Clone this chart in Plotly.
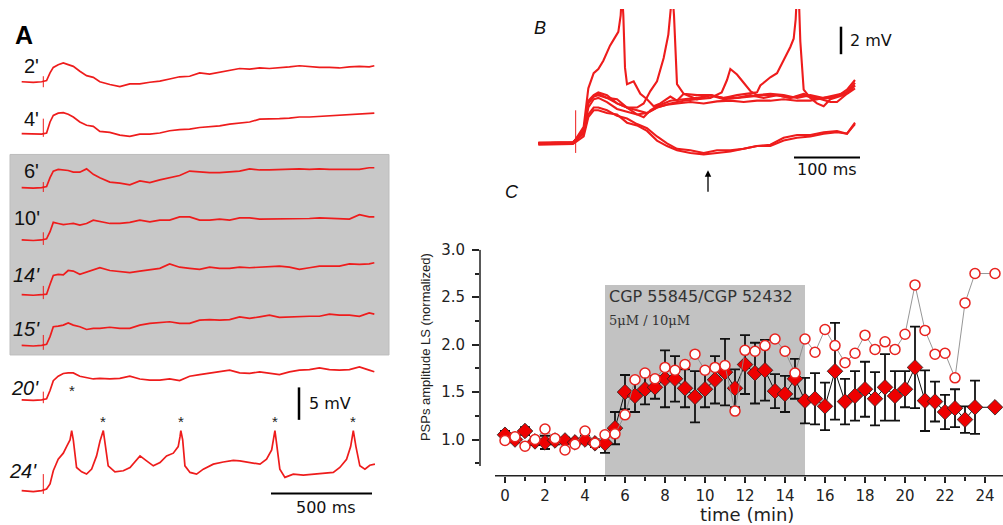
import plotly.graph_objects as go

W, H = 1003, 525
RED = "#ee1c1c"

# ---------------- Panel A : recordings at several times (mV rel. baseline) -------------
A_TIME = [-106, -49, -8, 16, 33, 49, 73, 98, 122, 147, 179, 212, 245, 277, 326, 375, 424, 473,
          522, 571, 619, 668, 717, 766, 815, 864, 913, 962, 1011, 1060, 1108, 1157, 1206, 1255,
          1304, 1353, 1402, 1451, 1500, 1549, 1597, 1622]
A_LABELS = ["2'", "4'", "6'", "10'", "14'", "15'", "20'", "24'"]
A_2 = [0, -0.1, 0, 0.2, 1.6, 2.6, 3.1, 3.4, 3.1, 2.8, 1.9, 1.1, 0.8, 0, -0.5, -0.9, -0.4, -0.4, -0.1, 0.1,
       0.5, 0.9, 1.0, 1.6, 1.4, 1.7, 2.0, 2.4, 2.3, 2.5, 2.4, 2.5, 2.7, 2.9, 2.7, 2.6, 2.6, 2.5, 2.7, 2.8, 2.7, 2.9]
A_4 = [0, -0.1, -0.1, 0.1, 2.1, 3.3, 3.7, 3.8, 3.5, 3.0, 2.1, 1.5, 1.3, 0.4, 0.2, -0.3, -0.5, -0.1, -0.1, 0.1,
       0.5, 0.7, 0.8, 1.1, 1.2, 1.4, 1.7, 1.9, 2.1, 2.6, 2.6, 2.7, 2.8, 3.0, 3.0, 3.1, 3.3, 3.3, 3.4, 3.5, 3.7, 3.7]
A_6 = [0, -0.1, 0, 0.2, 1.8, 3.0, 3.3, 3.2, 3.1, 2.8, 2.8, 3.4, 2.4, 1.8, 1.0, 0.8, 0.5, 1.2, 0.9, 1.4,
       1.8, 2.2, 3.0, 2.8, 2.7, 2.7, 2.8, 3.0, 3.4, 3.2, 3.2, 3.3, 3.3, 3.4, 3.3, 3.4, 3.3, 3.3, 3.3, 3.3, 3.6, 3.6]
A_10 = [0, -0.1, 0, 0.2, 1.5, 3.2, 3.0, 2.8, 2.9, 3.0, 2.7, 3.0, 3.6, 3.4, 3.0, 3.0, 3.2, 3.6, 3.3, 3.6,
        3.6, 4.2, 4.2, 3.6, 3.6, 3.8, 3.6, 4.0, 4.0, 3.8, 3.8, 3.9, 3.8, 3.9, 3.9, 4.0, 3.9, 3.9, 3.8, 4.6, 4.2, 4.2]
A_14 = [0, -0.1, 0, 0.1, 1.9, 3.5, 3.7, 3.6, 4.4, 4.3, 3.7, 4.1, 4.6, 4.9, 4.4, 4.2, 4.0, 4.3, 4.6, 4.8,
        5.6, 5.0, 4.8, 4.6, 5.0, 4.8, 4.8, 5.0, 4.9, 5.0, 5.2, 5.2, 5.0, 4.6, 4.9, 5.2, 5.2, 5.2, 5.6, 5.5, 5.6, 5.8]
A_15 = [0, -0.1, 0, 0.2, 1.6, 3.4, 3.5, 3.7, 4.1, 3.7, 3.4, 2.9, 3.1, 3.1, 3.3, 3.1, 3.1, 3.7, 4.0, 4.2,
        4.3, 4.0, 4.0, 4.6, 4.7, 4.6, 4.7, 5.2, 4.9, 5.2, 5.5, 5.1, 5.2, 5.3, 5.3, 5.3, 5.7, 5.5, 5.5, 5.3, 5.9, 5.7]
A_20 = [0, -0.1, 0, 0.2, 1.7, 3.5, 4.3, 4.8, 4.9, 4.9, 4.3, 4.0, 3.8, 3.9, 3.8, 3.9, 4.3, 3.8, 3.6, 3.6,
        3.8, 3.5, 4.3, 4.6, 4.9, 5.1, 5.4, 4.9, 4.8, 5.1, 4.9, 4.6, 5.1, 5.4, 5.5, 5.8, 5.5, 5.4, 5.5, 6.0, 5.4, 5.1]
A_24_TIME = [-106, -49, -8, 16, 33, 49, 73, 98, 114, 131, 139, 147, 163, 188, 212, 237, 261, 278, 294, 302,
             318, 351, 392, 425, 449, 474, 506, 539, 572, 604, 637, 661, 670, 674, 683, 694, 719, 751, 784,
             833, 882, 931, 963, 1012, 1062, 1094, 1119, 1130, 1135, 1143, 1159, 1184, 1225, 1274, 1323,
             1372, 1421, 1453, 1486, 1506, 1519, 1532, 1551, 1576, 1600, 1625]
A_24 = [0, -0.2, 0, 0.3, 1.2, 3.6, 5.7, 6.8, 8.0, 9.2, 10.9, 9.2, 4.2, 3.4, 3.0, 3.9, 6.3, 9.0, 10.9, 9.0,
        4.5, 3.4, 3.6, 4.2, 5.2, 6.3, 5.4, 4.5, 5.1, 6.3, 6.8, 8.0, 9.8, 10.9, 9.2, 4.5, 3.3, 3.0, 3.9,
        4.8, 5.2, 5.5, 5.4, 5.1, 4.8, 5.7, 7.4, 9.8, 10.9, 8.6, 3.9, 2.4, 3.0, 2.8, 3.0,
        3.2, 3.3, 4.2, 5.7, 8.0, 10.9, 8.0, 4.5, 3.9, 4.6, 4.8]
A_ART_UP = [1.0, 2.7, 1.0, 1.4, 1.6, 1.9, 1.5, 3.0]
A_ART_DN = [-1.0, -0.6, -0.8, -0.9, -0.8, -0.8, -0.6, -0.6]
A_STAR_24 = [294, 674, 1135, 1519]
A_STAR_24_PEAK = 10.9

# ---------------- Panel B : superimposed sweeps (ms, mV rel. baseline) -------------
B_TIME = [-56, -28, -4, 12, 19, 27, 34, 47, 62, 77, 92, 107, 122, 137, 152, 172, 192, 212, 232, 252,
          272, 292, 312, 332, 352, 372, 392, 407, 419]
B_1 = [0, -0.05, 0.05, 0.7, 2.1, 2.6, 2.6, 2.4, 2.0, 1.8, 1.4, 1.1, 0.5, 0, -0.4, -0.5, -0.7, -0.5, -0.5, -0.4,
       -0.2, -0.1, 0.4, 0.6, 0.6, 0.8, 0.9, 0.7, 1.5]
B_2 = [-0.1, -0.1, -0.05, 0.5, 1.9, 2.4, 2.4, 2.2, 2.1, 1.5, 1.3, 0.9, 0.2, -0.2, -0.5, -0.7, -0.8, -0.7, -0.6, -0.4,
       -0.2, -0.2, 0.2, 0.4, 0.5, 0.7, 0.8, 0.7, 1.4]
B_3 = [0, 0, 0.05, 0.95, 2.9, 3.4, 3.5, 3.3, 2.9, 2.6, 2.4, 2.2, 2.6, 2.8, 2.9, 3.0, 2.9, 3.05, 3.1, 3.0,
       3.1, 3.1, 3.2, 3.1, 3.1, 3.3, 3.5, 3.7, 4.2]
B_4_TIME = [-56, -28, -4, 12, 19, 27, 34, 47, 62, 77, 92, 107, 122, 142, 162, 182, 202, 219, 227, 232,
            242, 252, 262, 272, 292, 312, 332, 352, 372, 392, 407, 419]
B_4 = [0.05, 0.07, 0.1, 0.8, 2.6, 3.2, 3.3, 3.0, 2.5, 2.3, 2.1, 2.2, 2.6, 2.9, 3.1, 3.2, 3.3, 3.7, 4.6, 5.4,
       5.0, 4.4, 3.8, 3.5, 3.6, 3.5, 3.3, 3.5, 3.3, 3.4, 3.9, 4.6]
B_5_TIME = [-56, -28, -4, 12, 19, 27, 34, 41.5, 51.5, 59, 64, 67.5, 69.5, 71.5, 74, 77, 87, 97, 107, 117,
            127, 142, 152, 162, 182, 202, 222, 242, 262, 282, 302, 322, 342, 362, 382, 392, 407, 419]
B_5 = [-0.05, 0, 0, 1.2, 4.0, 5.1, 5.4, 6.0, 7.1, 7.7, 8.1, 9.3, 11, 9.3, 5.5, 4.3, 4.5, 3.6, 3.2, 2.7,
       2.9, 3.4, 3.1, 3.6, 3.2, 3.5, 3.3, 3.3, 3.5, 3.3, 3.5, 3.3, 3.6, 3.3, 3.0, 3.0, 3.6, 4.0]
B_6_TIME = [-56, -28, -4, 12, 19, 27, 34, 47, 62, 77, 92, 102, 112, 122, 132, 139, 142.5, 145, 147.5, 152,
            162, 182, 202, 222, 242, 262, 282, 302, 322, 342, 362, 382, 407, 419]
B_6 = [0, 0, 0.05, 0.9, 3.1, 3.5, 3.7, 3.5, 2.9, 2.6, 2.6, 2.9, 3.8, 4.5, 6.2, 7.9, 9.3, 11, 9.3, 4.3,
       3.6, 3.5, 3.5, 3.2, 3.3, 3.4, 3.5, 3.5, 3.3, 3.5, 3.2, 3.3, 3.7, 4.4]
B_7_TIME = [-56, -28, -4, 12, 19, 27, 34, 47, 62, 77, 92, 102, 112, 122, 142, 162, 182, 202, 222, 242,
            262, 272, 277, 292, 302, 312, 322, 327, 330, 332, 334.5, 337, 342, 352, 362, 372, 382, 402, 419]
B_7 = [0, 0, 0.05, 0.9, 3.0, 3.4, 3.6, 3.3, 3.2, 2.6, 2.1, 1.9, 2.4, 2.7, 3.1, 3.2, 3.3, 3.5, 3.3, 3.5,
       3.6, 3.7, 4.2, 4.8, 5.1, 6.0, 7.0, 7.6, 9.0, 11, 11, 7.4, 3.9, 3.3, 2.9, 2.7, 3.2, 3.5, 4.2]
B_ART = [2.4, -0.7]

# ---------------- Panel C : normalized PSP amplitude vs time -------------
C_T_FILL = [0, 0.5, 1, 1.5, 2, 2.5, 3, 3.5, 4, 4.5, 5, 5.5, 6, 6.5, 7, 7.5, 8, 8.5, 9, 9.5, 10, 10.5,
            11, 11.5, 12, 12.5, 13, 13.5, 14, 14.5, 15, 15.5, 16, 16.5, 17, 17.5, 18, 18.5, 19, 19.5,
            20, 20.5, 21, 21.5, 22, 22.5, 23, 23.5, 24.5]
C_FILL = [1.05, 1.00, 1.09, 0.98, 0.97, 0.99, 0.99, 0.97, 1.00, 0.96, 0.96, 1.12, 1.50, 1.46, 1.53, 1.55,
          1.64, 1.64, 1.54, 1.45, 1.53, 1.63, 1.71, 1.54, 1.79, 1.70, 1.73, 1.51, 1.48, 1.64, 1.41, 1.43,
          1.35, 1.72, 1.40, 1.46, 1.53, 1.43, 1.55, 1.46, 1.53, 1.76, 1.41, 1.40, 1.29, 1.33, 1.21, 1.34, 1.34]
C_FILL_ERR = [0.04, 0.03, 0.04, 0.04, 0.07, 0.04, 0.03, 0.03, 0.04, 0.04, 0.10, 0.17, 0.18, 0.17, 0.16,
              0.12, 0.30, 0.24, 0.20, 0.27, 0.19, 0.25, 0.35, 0.20, 0.31, 0.32, 0.32, 0.18, 0.19, 0.21,
              0.24, 0.27, 0.25, 0.51, 0.24, 0.26, 0.29, 0.28, 0.35, 0.26, 0.19, 0.43, 0.32, 0.21, 0.18,
              0.20, 0.14, 0.28, None]
C_T_OPEN = C_T_FILL
C_OPEN = [0.99, 1.03, 0.93, 1.00, 1.11, 1.01, 0.89, 0.95, 1.09, 0.96, 1.05, 1.06, 1.26, 1.63, 1.70, 1.64,
          1.76, 1.73, 1.79, 1.90, 1.73, 1.76, 1.78, 1.30, 1.94, 1.93, 1.99, 2.06, 1.93, 1.70, 2.06, 1.92,
          2.16, 1.99, 1.81, 1.91, 2.10, 1.95, 2.03, 1.95, 2.11, 2.63, 2.15, 1.90, 1.91, 1.65, 2.44, 2.75, 2.75]
C_XTICKS = list(range(0, 25, 2))
C_XMINOR = list(range(1, 24, 2))
C_YTICKS = [1.0, 1.5, 2.0, 2.5, 3.0]
C_YMINOR = [0.75, 1.25, 1.75, 2.25, 2.75]
DRUG_START, DRUG_END = 5, 15

# ---------------- layout helpers (pixel geometry) -------------
def xp(px):
    return px / W

def yp(py):
    return 1 - py / H

A_PX_PER_MV = 5.6
A_MS_PER_PX = 4.9
A_T0_PX = 43.3
A_BASE_PX = [74, 126.7, 181.7, 235, 290.7, 342.3, 397.7, 490]
A_LABEL_PX = [(31, 58), (31, 112), (32, 165), (27, 213), (26, 271), (26, 326), (25, 386), (23, 470)]
A_LABEL_ITALIC = [False, False, False, False, True, True, True, True]

fig = go.Figure()

# Panel A traces
a_series = [A_2, A_4, A_6, A_10, A_14, A_15, A_20]
for i, base in enumerate(A_BASE_PX):
    off = -base / A_PX_PER_MV
    if i < 7:
        tx, vy = A_TIME, a_series[i]
    else:
        tx, vy = A_24_TIME, A_24
    fig.add_trace(go.Scatter(x=tx, y=[v + off for v in vy], mode="lines",
                             line=dict(color=RED, width=1.7), xaxis="x2", yaxis="y2",
                             showlegend=False, hoverinfo="skip"))
    fig.add_trace(go.Scatter(x=[0, 0], y=[A_ART_UP[i] + off, A_ART_DN[i] + off], mode="lines",
                             line=dict(color=RED, width=1), xaxis="x2", yaxis="y2",
                             showlegend=False, hoverinfo="skip"))

# Panel B traces
for tx, vy in [(B_TIME, B_1), (B_TIME, B_2), (B_TIME, B_3), (B_4_TIME, B_4),
               (B_5_TIME, B_5), (B_6_TIME, B_6), (B_7_TIME, B_7)]:
    fig.add_trace(go.Scatter(x=tx, y=vy, mode="lines", line=dict(color=RED, width=2.1),
                             xaxis="x3", yaxis="y3", showlegend=False, hoverinfo="skip"))
fig.add_trace(go.Scatter(x=[0, 0], y=B_ART, mode="lines", line=dict(color=RED, width=1),
                         xaxis="x3", yaxis="y3", showlegend=False, hoverinfo="skip"))

# Panel C
fig.add_trace(go.Scatter(
    x=C_T_FILL, y=C_FILL, mode="lines+markers",
    line=dict(color="#111111", width=1),
    marker=dict(symbol="diamond", size=12, color="#ee0000", line=dict(color="#222222", width=0.8)),
    error_y=dict(type="data", array=C_FILL_ERR, color="#111111", thickness=1.8, width=5),
    showlegend=False, hoverinfo="skip"))
fig.add_trace(go.Scatter(
    x=C_T_OPEN, y=C_OPEN, mode="lines+markers",
    line=dict(color="#8a8a8a", width=0.9),
    marker=dict(symbol="circle", size=10, color="white", line=dict(color="#e8231f", width=1.5)),
    showlegend=False, hoverinfo="skip"))

shapes = [
    # Panel A gray background
    dict(type="rect", xref="paper", yref="paper", x0=xp(10), x1=xp(389), y0=yp(352), y1=yp(148),
         fillcolor="#c8c8c8", line=dict(color="#bdbdbd", width=1), layer="below"),
    # Panel A scale bars
    dict(type="line", xref="paper", yref="paper", x0=xp(271), x1=xp(372), y0=yp(493), y1=yp(493),
         line=dict(color="black", width=2)),
    dict(type="line", xref="paper", yref="paper", x0=xp(299), x1=xp(299), y0=yp(385), y1=yp(418),
         line=dict(color="black", width=2.5)),
    # Panel B scale bars
    dict(type="line", xref="paper", yref="paper", x0=xp(794), x1=xp(860), y0=yp(151), y1=yp(151),
         line=dict(color="black", width=2)),
    dict(type="line", xref="paper", yref="paper", x0=xp(841), x1=xp(841), y0=yp(18), y1=yp(46),
         line=dict(color="black", width=2.5)),
    # Panel C drug shading
    dict(type="rect", xref="x", yref="y", x0=DRUG_START, x1=DRUG_END, y0=0.617, y1=2.63,
         fillcolor="#c2c2c2", line=dict(width=0), layer="below"),
    # Panel C axis lines
    dict(type="line", xref="x", yref="y domain", x0=-0.5, x1=24.9, y0=0, y1=0,
         line=dict(color="#222222", width=1.5)),
    dict(type="line", xref="x domain", yref="y", x0=0, x1=0, y0=0.72, y1=3.0,
         line=dict(color="#222222", width=1.5)),
]

ann = []
for (lx, ly), lab, it in zip(A_LABEL_PX, A_LABELS, A_LABEL_ITALIC):
    ann.append(dict(xref="paper", yref="paper", x=xp(lx), y=yp(ly), text=f"<i>{lab}</i>" if it else lab,
                    showarrow=False, font=dict(family="Liberation Sans", size=20, color="#111111"),
                    xanchor="center", yanchor="middle"))
off24 = -A_BASE_PX[7] / A_PX_PER_MV
for ts in A_STAR_24:
    ann.append(dict(xref="x2", yref="y2", x=ts, y=A_STAR_24_PEAK + off24, text="*", showarrow=False,
                    yshift=9, font=dict(family="Liberation Sans", size=15, color="#222222"),
                    xanchor="center", yanchor="middle"))
ann.append(dict(xref="paper", yref="paper", x=xp(72), y=yp(388), text="*", showarrow=False,
                font=dict(family="Liberation Sans", size=15, color="#222222"), xanchor="center", yanchor="middle"))
ann += [
    dict(xref="paper", yref="paper", x=xp(24), y=yp(26), text="<b>A</b>", showarrow=False,
         font=dict(family="Liberation Sans", size=25, color="black"), xanchor="center", yanchor="middle"),
    dict(xref="paper", yref="paper", x=xp(540), y=yp(19), text="<i>B</i>", showarrow=False,
         font=dict(family="Liberation Sans", size=18, color="#111111"), xanchor="center", yanchor="middle"),
    dict(xref="paper", yref="paper", x=xp(512), y=yp(186), text="<i>C</i>", showarrow=False,
         font=dict(family="Liberation Sans", size=18, color="#111111"), xanchor="center", yanchor="middle"),
    dict(xref="paper", yref="paper", x=xp(307), y=yp(401), text="5 mV", showarrow=False,
         font=dict(family="DejaVu Sans", size=16, color="#111111"), xanchor="left", yanchor="middle"),
    dict(xref="paper", yref="paper", x=xp(326), y=yp(507), text="500 ms", showarrow=False,
         font=dict(family="DejaVu Sans", size=16, color="#111111"), xanchor="center", yanchor="middle"),
    dict(xref="paper", yref="paper", x=xp(848), y=yp(32), text="2 mV", showarrow=False,
         font=dict(family="DejaVu Sans", size=16, color="#111111"), xanchor="left", yanchor="middle"),
    dict(xref="paper", yref="paper", x=xp(827), y=yp(163), text="100 ms", showarrow=False,
         font=dict(family="DejaVu Sans", size=16, color="#111111"), xanchor="center", yanchor="middle"),
    # arrow in B
    dict(xref="paper", yref="paper", x=xp(708), y=yp(164), ax=0, ay=23, text="", showarrow=True,
         arrowhead=2, arrowsize=1, arrowwidth=1.3, arrowcolor="black"),
    # panel C texts
    dict(xref="x", yref="y", x=DRUG_START + 0.1, y=2.51, text="CGP 55845/CGP 52432", showarrow=False,
         font=dict(family="DejaVu Sans", size=16, color="#333333"), xanchor="left", yanchor="middle"),
    dict(xref="x", yref="y", x=DRUG_START + 0.1, y=2.25, text="5\u03bcM / 10\u03bcM", showarrow=False,
         font=dict(family="DejaVu Serif", size=13, color="#333333"), xanchor="left", yanchor="middle"),
    dict(xref="paper", yref="paper", x=xp(425), y=yp(344), text="PSPs amplitude LS (normalized)",
         textangle=-90, showarrow=False, font=dict(family="Liberation Sans", size=13, color="#222222"),
         xanchor="center", yanchor="middle"),
    dict(xref="paper", yref="paper", x=xp(747), y=yp(514), text="time (min)", showarrow=False,
         font=dict(family="DejaVu Sans", size=18, color="#222222"), xanchor="center", yanchor="middle"),
]

tickfont = dict(family="DejaVu Sans", size=15, color="#222222")
fig.update_layout(
    width=W, height=H, margin=dict(l=0, r=0, t=0, b=0),
    paper_bgcolor="white", plot_bgcolor="rgba(0,0,0,0)",
    shapes=shapes, annotations=ann,
    xaxis=dict(domain=[xp(480), 1], range=[-1.25, 24.9], showgrid=False, zeroline=False, showline=False,
               tickmode="array", tickvals=C_XTICKS, ticktext=[str(v) for v in C_XTICKS],
               ticks="outside", ticklen=6, tickwidth=1.5, tickcolor="#222222", tickfont=tickfont,
               ticklabelstandoff=0,
               minor=dict(tickmode="array", tickvals=C_XMINOR, ticks="outside", ticklen=4,
                          tickwidth=1.5, tickcolor="#222222", showgrid=False)),
    yaxis=dict(domain=[yp(475), yp(245)], range=[0.617, 3.0], showgrid=False, zeroline=False,
               showline=False, tickmode="array", tickvals=C_YTICKS,
               ticktext=[f"{v:.1f}" for v in C_YTICKS], ticks="outside", ticklen=7, tickwidth=1.5,
               tickcolor="#222222", tickfont=tickfont, ticklabelstandoff=4,
               minor=dict(tickmode="array", tickvals=C_YMINOR, ticks="outside", ticklen=4,
                          tickwidth=1.5, tickcolor="#222222", showgrid=False)),
    xaxis2=dict(domain=[0, xp(400)], range=[-A_T0_PX * A_MS_PER_PX, (400 - A_T0_PX) * A_MS_PER_PX],
                visible=False, anchor="y2"),
    yaxis2=dict(domain=[0, 1], range=[-H / A_PX_PER_MV, 0], visible=False, anchor="x2"),
    xaxis3=dict(domain=[xp(530), xp(870)], range=[-68.5, 441.5], visible=False, anchor="y3"),
    yaxis3=dict(domain=[yp(190), 1], range=[-3.81, 9.762], visible=False, anchor="x3"),
)

fig.write_html("out.html")
